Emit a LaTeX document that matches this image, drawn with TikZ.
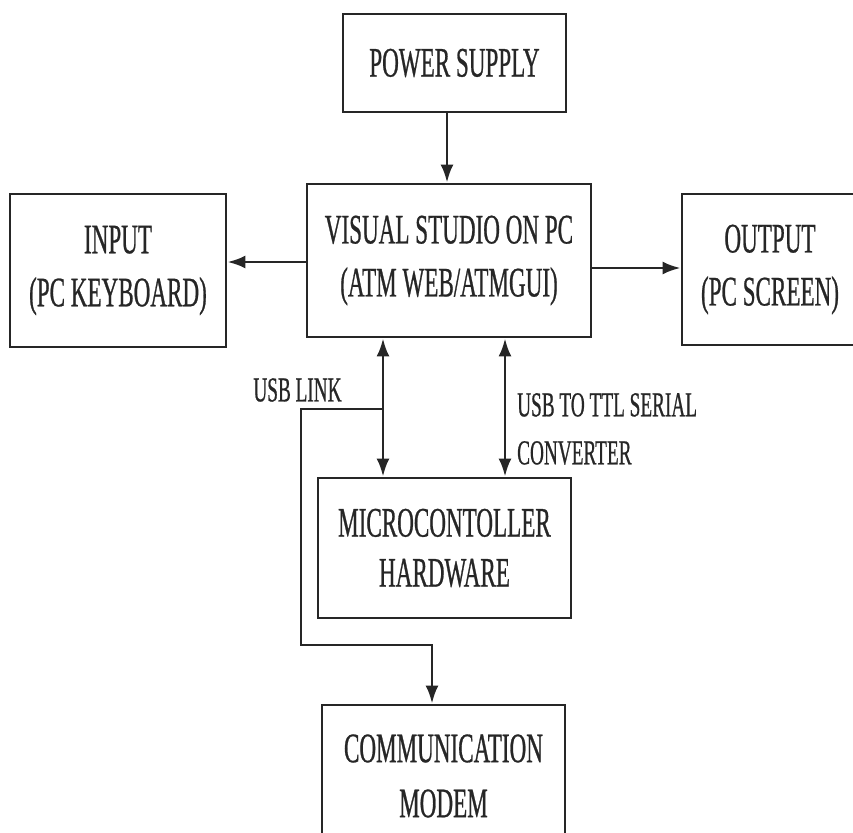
\documentclass[tikz,border=0pt]{standalone}
\usepackage{fontspec}
\setmainfont{Liberation Serif}[FakeStretch=0.55,FakeBold=0.6]
\usetikzlibrary{arrows.meta}
\definecolor{ink}{HTML}{262626}
\begin{document}
\begin{tikzpicture}[x=1pt,y=1pt,
  box/.style={draw=ink,line width=2.8pt,align=center,inner sep=0pt,
    font=\fontsize{42}{53}\selectfont,text=ink},
  lbl/.style={font=\fontsize{35}{48}\selectfont,text=ink,inner sep=0pt},
  conn/.style={draw=ink,line width=2.8pt},
  arr/.style={conn,-{Latex[length=18pt,width=13pt]}},
  darr/.style={conn,{Latex[length=18pt,width=13pt]}-{Latex[length=18pt,width=13pt]}}]
\useasboundingbox (0,0) rectangle (853,-832);
\node[box,minimum width=223,minimum height=98] (power) at (454.5,-63) {POWER SUPPLY};
\node[box,minimum width=284,minimum height=153] (vs) at (449,-260.5) {VISUAL STUDIO ON PC\\(ATM WEB/ATMGUI)};
\node[box,minimum width=216,minimum height=153] (input) at (118,-270.5) {INPUT\\(PC KEYBOARD)};
\node[box,minimum width=176,minimum height=151] (output) at (770,-269.5) {OUTPUT\\(PC SCREEN)};
\node[box,minimum width=253,minimum height=140,font=\fontsize{42}{50}\selectfont] (mc) at (444.5,-548) {MICROCONTOLLER\\HARDWARE};
\node[box,minimum width=243,minimum height=142,font=\fontsize{42}{55}\selectfont] (modem) at (443.5,-776) {COMMUNICATION\\MODEM};
\node[lbl,anchor=center] (usblink) at (297.5,-390) {USB LINK};
\node[lbl,anchor=west,align=left] (ttl) at (517,-429) {USB TO TTL SERIAL\\CONVERTER};
\coordinate (px) at (447,0);
\coordinate (ax) at (383,0);
\coordinate (bx) at (505,0);
\coordinate (j) at (383,-409);
\coordinate (c1) at (301,-645);
\coordinate (mx) at (432,0);
\draw[arr] (power.south -| px) -- (vs.north -| px);
\draw[arr] ([yshift=-1.5pt]vs.west) -- ([yshift=-1.5pt]vs.west -| input.east);
\draw[arr] ([yshift=-7.5pt]vs.east) -- ([yshift=-7.5pt]vs.east -| output.west);
\draw[darr] (vs.south -| ax) -- (mc.north -| ax);
\draw[darr] (vs.south -| bx) -- (mc.north -| bx);
\draw[arr] (j) -- (j -| c1) -- (c1) -- (c1 -| mx) -- (mx |- modem.north);
\end{tikzpicture}
\end{document}
